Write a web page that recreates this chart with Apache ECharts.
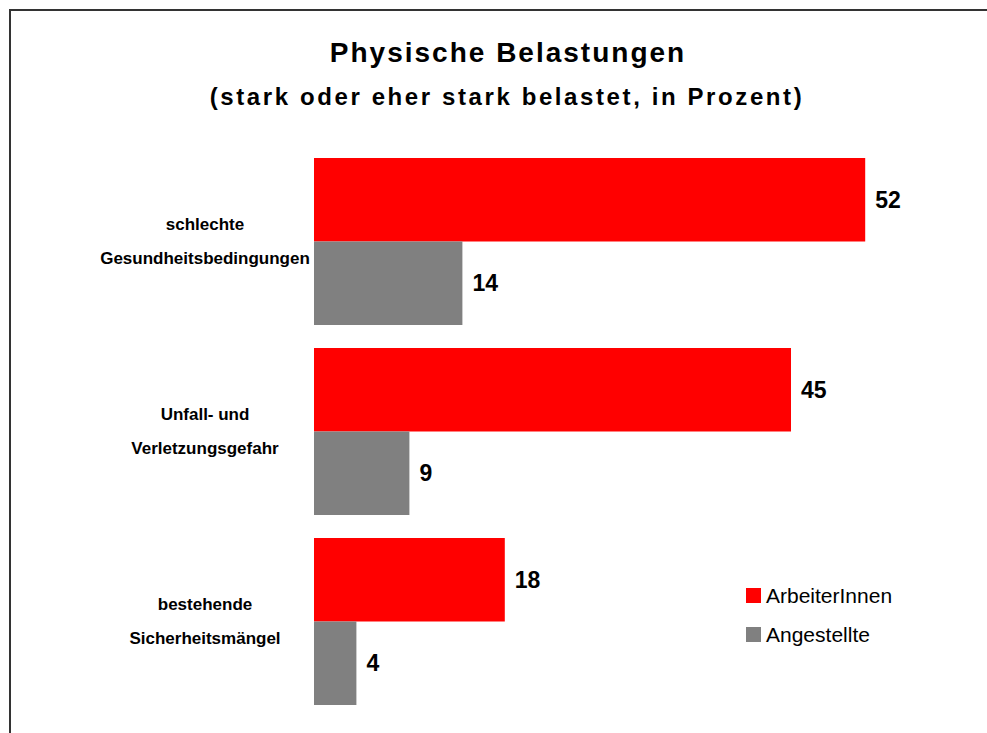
<html>
<head>
<meta charset="utf-8">
<script src="https://cdn.jsdelivr.net/npm/echarts@6/dist/echarts.min.js"></script>
<style>
html, body { margin: 0; padding: 0; background: #fff; }
#frame { position: absolute; left: 9px; top: 9px; width: 1000px; height: 800px; border-left: 2px solid #333; border-top: 2px solid #333; }
#chart { position: absolute; left: 0; top: 0; width: 987px; height: 733px; }
/* the original titles are letter-spaced; zrender has no letterSpacing, so do it in css on the svg text */
#chart text[style*="28px"], #chart text[font-size="28"], #chart text[font-size="28px"] { letter-spacing: 2px; }
#chart text[style*="24px"], #chart text[font-size="24"], #chart text[font-size="24px"] { letter-spacing: 2.6px; }
</style>
</head>
<body>
<div id="frame"></div>
<div id="chart"></div>
<script>
// data
var categories = ['schlechte\nGesundheitsbedingungen', 'Unfall- und\nVerletzungsgefahr', 'bestehende\nSicherheitsmängel'];
var arbeiter = [52, 45, 18];
var angestellte = [14, 9, 4];

var font = 'Liberation Sans, Arial, sans-serif';

var chart = echarts.init(document.getElementById('chart'), null, { renderer: 'svg' });

var valueLabel = { show: true, position: 'right', distance: 10, fontFamily: font, fontSize: 23, fontWeight: 'bold', color: '#000' };

var option = {
	animation: false,
	textStyle: { fontFamily: font, color: '#000' },
	title: [{
		text: 'Physische Belastungen',
		left: 503, top: 33, textAlign: 'center',
		textStyle: { fontFamily: font, fontSize: 28, fontWeight: 'bold', color: '#000' }
	}, {
		text: '(stark oder eher stark belastet, in Prozent)',
		left: 502, top: 79, textAlign: 'center',
		textStyle: { fontFamily: font, fontSize: 24, fontWeight: 'bold', color: '#000' }
	}],
	legend: {
		orient: 'vertical',
		left: 741, top: 580,
		itemWidth: 15, itemHeight: 15, itemGap: 18,
		icon: 'rect',
		textStyle: { fontFamily: font, fontSize: 21, color: '#000' },
		data: ['ArbeiterInnen', 'Angestellte']
	},
	grid: { left: 314, right: 37, top: 146.5, bottom: 16.5 },
	xAxis: {
		type: 'value', min: 0, max: 60,
		show: false
	},
	yAxis: {
		type: 'category', inverse: true,
		data: categories,
		axisLine: { show: false }, axisTick: { show: false },
		axisLabel: {
			align: 'center', margin: 109,
			fontFamily: font, fontSize: 17, fontWeight: 'bold', color: '#000', lineHeight: 34
		}
	},
	series: [{
		name: 'ArbeiterInnen', type: 'bar',
		data: arbeiter,
		itemStyle: { color: '#ff0000' },
		barGap: '0%', barCategoryGap: '12%',
		label: valueLabel
	}, {
		name: 'Angestellte', type: 'bar',
		data: angestellte,
		itemStyle: { color: '#808080' },
		barGap: '0%', barCategoryGap: '12%',
		label: valueLabel
	}]
};

chart.setOption(option);
</script>
</body>
</html>
